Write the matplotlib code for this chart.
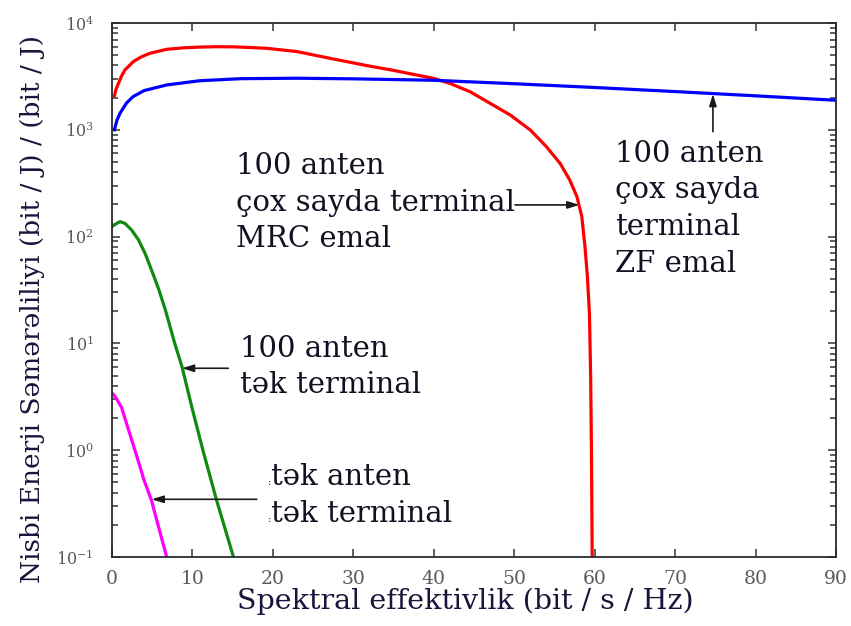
import matplotlib
matplotlib.use('Agg')
import matplotlib.pyplot as plt
from matplotlib import transforms

# spectral efficiency (bit/s/Hz) and relative energy efficiency, per curve
se_zf = [0.3, 0.6, 1, 1.8, 2.6, 4, 6.8, 10.9, 16, 23, 30, 40, 50, 60, 70, 80,
         90]
ee_zf = [1000, 1220, 1430, 1780, 2040, 2330, 2630, 2880, 3010, 3040, 3000,
         2910, 2700, 2490, 2280, 2080, 1890]

se_mrc = [0.3, 0.5, 0.8, 1.2, 1.6, 2.65, 3.6, 4.7, 6.8, 8.8, 10.9, 13, 15.1,
          17, 19.2, 23, 27.1, 32, 35, 37.5, 40, 42, 44.5, 47, 49.5, 52, 54,
          55.7, 56.9, 57.8, 58.4, 58.8, 59.1, 59.35, 59.5, 59.6, 59.7]
ee_mrc = [2080, 2400, 2720, 3200, 3630, 4350, 4800, 5200, 5670, 5850, 5950,
          6000, 5980, 5900, 5800, 5400, 4670, 3950, 3600, 3300, 3030, 2720,
          2275, 1770, 1376, 996, 695, 485, 339, 236, 154, 80, 42, 19, 5, 1,
          0.08]

se_100_1 = [0.05, 0.37, 1.0, 1.6, 2.45, 3.3, 4.1, 4.9, 5.75, 6.6, 7.8, 8.7,
            10, 11.3, 13.0, 15.1]
ee_100_1 = [125, 130, 138, 133, 115, 93, 70, 49, 33, 21, 10, 6.05, 2.4, 1.0,
            0.34, 0.1]

se_1_1 = [0.05, 0.3, 0.6, 1.2, 2, 3, 4, 4.9, 5.8, 6.8]
ee_1_1 = [3.4, 3.25, 3.0, 2.5, 1.6, 0.92, 0.52, 0.34, 0.19, 0.1]

x_ticks = [0, 10, 20, 30, 40, 50, 60, 70, 80, 90]

FONT = 'DejaVu Serif'
TXT = '#111122'
LBL = '#16163a'
plt.rcParams['font.family'] = FONT
plt.rcParams['mathtext.fontset'] = 'dejavuserif'

fig = plt.figure(figsize=(8.51, 6.26), dpi=100)
ax = fig.add_axes([112 / 851, 1 - 557 / 626, 724 / 851, 534 / 626])

ax.plot(se_mrc, ee_mrc, color='#ff0000', lw=2.3)
ax.plot(se_zf, ee_zf, color='#0000ff', lw=2.3)
ax.plot(se_100_1, ee_100_1, color='#108a10', lw=2.3)
ax.plot(se_1_1, ee_1_1, color='#ff00ff', lw=2.3)

ax.set_yscale('log')
ax.set_xlim(0, 90)
ax.set_ylim(1e-1, 1e4)
ax.set_xticks(x_ticks)

for s in ax.spines.values():
    s.set_color('#2a2a2a')
    s.set_linewidth(1.3)
ax.tick_params(which='both', direction='in', top=True, right=True,
               color='#444444', width=1.2)
ax.tick_params(which='major', length=6)
ax.tick_params(which='minor', length=4)
ax.tick_params(axis='x', labelsize=13.5, labelcolor='#5a5a5a', pad=9)
ax.tick_params(axis='y', labelsize=11.5, labelcolor='#5a5a5a', pad=13)

ax.set_xlabel('Spektral effektivlik (bit / s / Hz)', fontsize=20.5,
              color=LBL)
ax.xaxis.set_label_coords(0.4876, -0.058)
ax.set_ylabel('Nisbi Enerji Səmərəliliyi (bit / J) / (bit / J)',
              fontsize=19, color=LBL)
ax.yaxis.set_label_coords(-0.092, 0.464)


def block(x, y, lines, size=21, pitch=26.4):
    # stack text lines downward from the first baseline at (x, y)
    for i, line in enumerate(lines):
        tr = transforms.offset_copy(ax.transData, fig=fig, x=0,
                                    y=-pitch * i, units='points')
        ax.text(x, y, line, transform=tr, fontsize=size, color=TXT,
                va='baseline', ha='left')


block(15.4, 385, ['100 anten', 'çox sayda terminal', 'MRC emal'])
block(62.5, 502, ['100 anten', 'çox sayda', 'terminal', 'ZF emal'])
block(15.9, 7.5, ['100 anten', 'tək terminal'])
block(19.8, 0.472, ['tək anten', 'tək terminal'])
block(19.45, 0.472, [':', ':'], size=7)

arrow = dict(arrowstyle='-|>,head_length=0.7,head_width=0.22',
             color='#1a1a1a', lw=1.2, shrinkA=0, shrinkB=0)
ax.annotate('', xy=(58.1, 198), xytext=(50.1, 198), arrowprops=arrow)
ax.annotate('', xy=(74.7, 2160), xytext=(74.7, 960), arrowprops=arrow)
ax.annotate('', xy=(8.7, 5.85), xytext=(14.46, 5.85), arrowprops=arrow)
ax.annotate('', xy=(4.93, 0.347), xytext=(17.99, 0.347), arrowprops=arrow)

fig.savefig('out.png', dpi=100)
